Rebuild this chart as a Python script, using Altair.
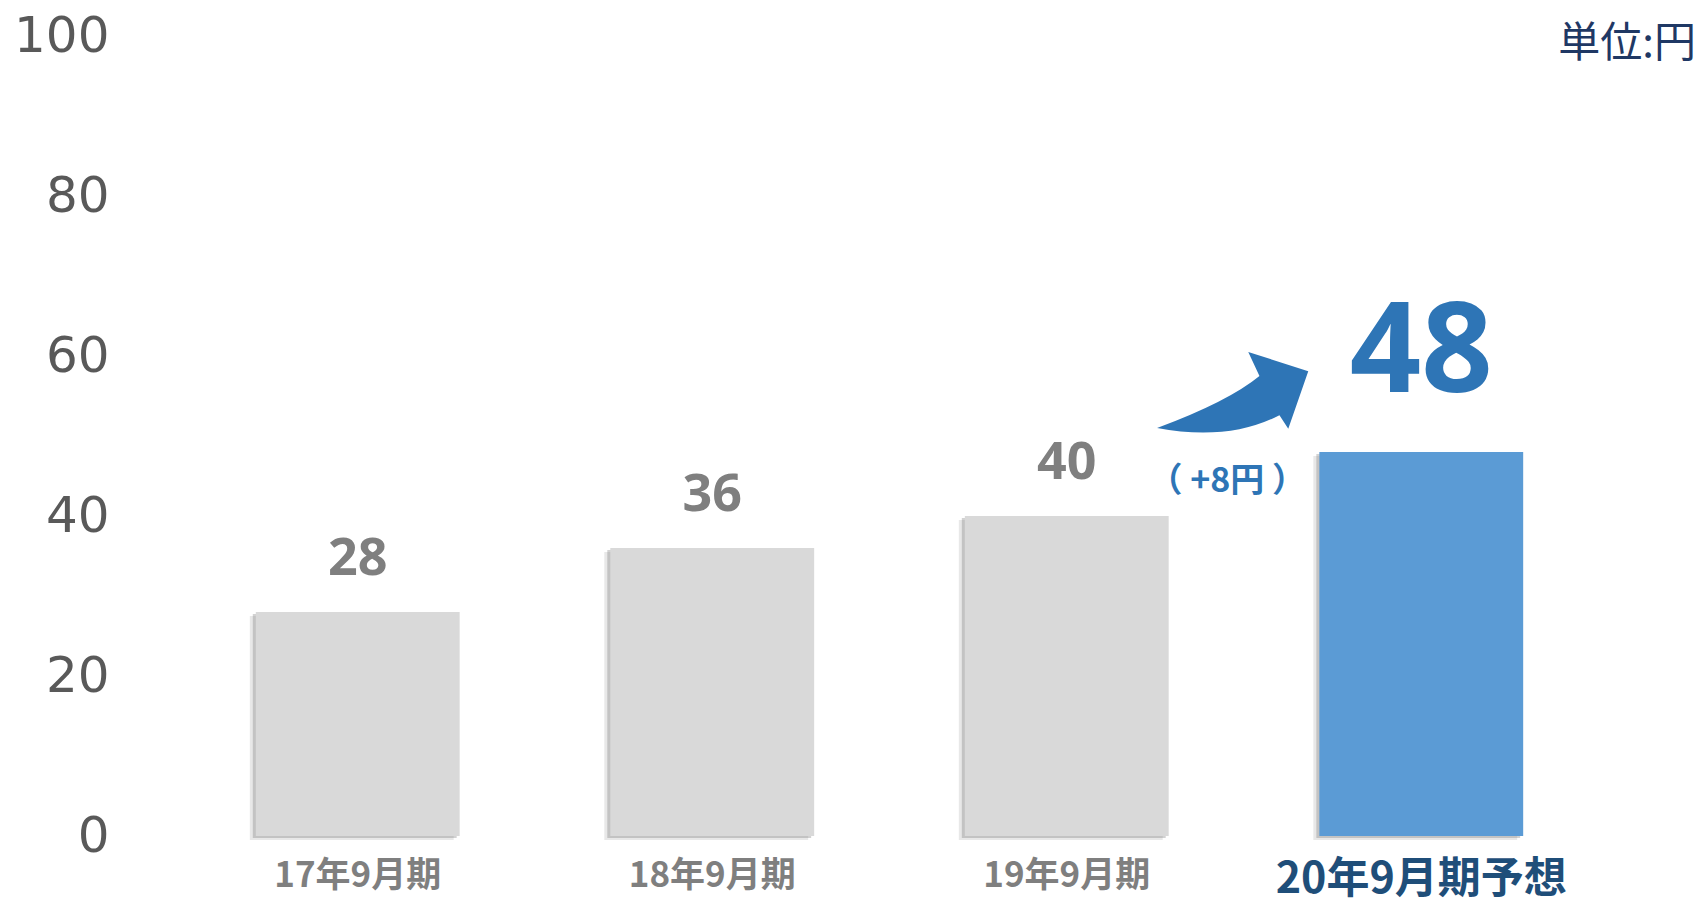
import altair as alt
import pandas as pd

categories = ["17年9月期", "18年9月期", "19年9月期", "20年9月期予想"]
values = [28, 36, 40, 48]
y_ticks = [0, 20, 40, 60, 80, 100]
forecast = "20年9月期予想"
change_label = "（ +8円 ）"
unit_label = "単位:円"

df = pd.DataFrame({"cat": categories, "val": values})
df["label"] = df["val"].astype(str)
df["kind"] = ["actual" if c != forecast else "forecast" for c in categories]

W, H = 1529, 800
JP = "Noto Sans CJK JP"

x_enc = alt.X(
    "cat:N",
    sort=categories,
    scale=alt.Scale(paddingInner=0.425, paddingOuter=0.369),
    axis=alt.Axis(
        title=None,
        labelAngle=0,
        domain=False,
        ticks=False,
        labelPadding=22,
        labelLimit=0,
        labelFont=JP,
        labelFontWeight="bold",
        labelFontSize={"condition": {"test": f"datum.value == '{forecast}'", "value": 43}, "value": 35},
        labelColor={"condition": {"test": f"datum.value == '{forecast}'", "value": "#1F4E79"}, "value": "#7F7F7F"},
    ),
)
y_enc = alt.Y(
    "val:Q",
    scale=alt.Scale(domain=[0, 100]),
    axis=alt.Axis(
        title=None,
        values=y_ticks,
        grid=False,
        domain=False,
        ticks=False,
        labelPadding=16,
        labelFont="DejaVu Sans",
        labelFontSize=50,
        labelColor="#595959",
    ),
)

base = alt.Chart(df).encode(x=x_enc, y=y_enc)

shadow1 = base.mark_bar(color="#7F7F7F", opacity=0.18, xOffset=-6, yOffset=4)
shadow2 = base.mark_bar(color="#7F7F7F", opacity=0.35, xOffset=-3, yOffset=2)
bars = base.mark_bar().encode(
    color=alt.Color(
        "kind:N",
        scale=alt.Scale(domain=["actual", "forecast"], range=["#D9D9D9", "#5B9BD5"]),
        legend=None,
    )
)

val_labels = base.transform_filter(alt.datum.kind == "actual").mark_text(
    font="Noto Sans", fontWeight="bold", fontSize=52, color="#7F7F7F",
    baseline="alphabetic", dy=-37,
).encode(text="label:N")

big_label = base.transform_filter(alt.datum.kind == "forecast").mark_text(
    font="Noto Sans", fontWeight="bold", fontSize=125, color="#2E75B6",
    baseline="alphabetic", dy=-60,
).encode(text="label:N")

change = base.transform_filter(alt.datum.kind == "forecast").mark_text(
    font=JP, fontWeight="bold", fontSize=34, color="#2E75B6",
    baseline="middle", dx=-194, dy=30,
).encode(text=alt.value(change_label))

arrow_path = ("M-0.94,0.45 Q-0.05,0.62 0.59,0.29 L0.70,0.46 L0.95,-0.26 "
              "L0.20,-0.50 L0.34,-0.20 Q-0.05,0.12 -0.94,0.45 Z")
arrow = base.transform_filter(alt.datum.kind == "forecast").mark_point(
    shape=arrow_path, size=25600, filled=True, color="#2E75B6", opacity=1,
    strokeWidth=0, xOffset=-189, yOffset=-60,
)

unit = alt.Chart(pd.DataFrame({"t": [unit_label]})).mark_text(
    font=JP, fontSize=42, color="#1F3864", align="right", baseline="middle",
).encode(x=alt.value(W + 42), y=alt.value(8), text="t:N")

chart = alt.layer(shadow1, shadow2, bars, val_labels, big_label, change, arrow, unit).properties(
    width=W, height=H,
    autosize=alt.AutoSizeParams(type="none"),
    padding={"left": 117, "top": 28, "right": 44, "bottom": 63},
).configure_view(stroke=None)

chart.save("out.html", embed_options={"renderer": "svg", "actions": False})
